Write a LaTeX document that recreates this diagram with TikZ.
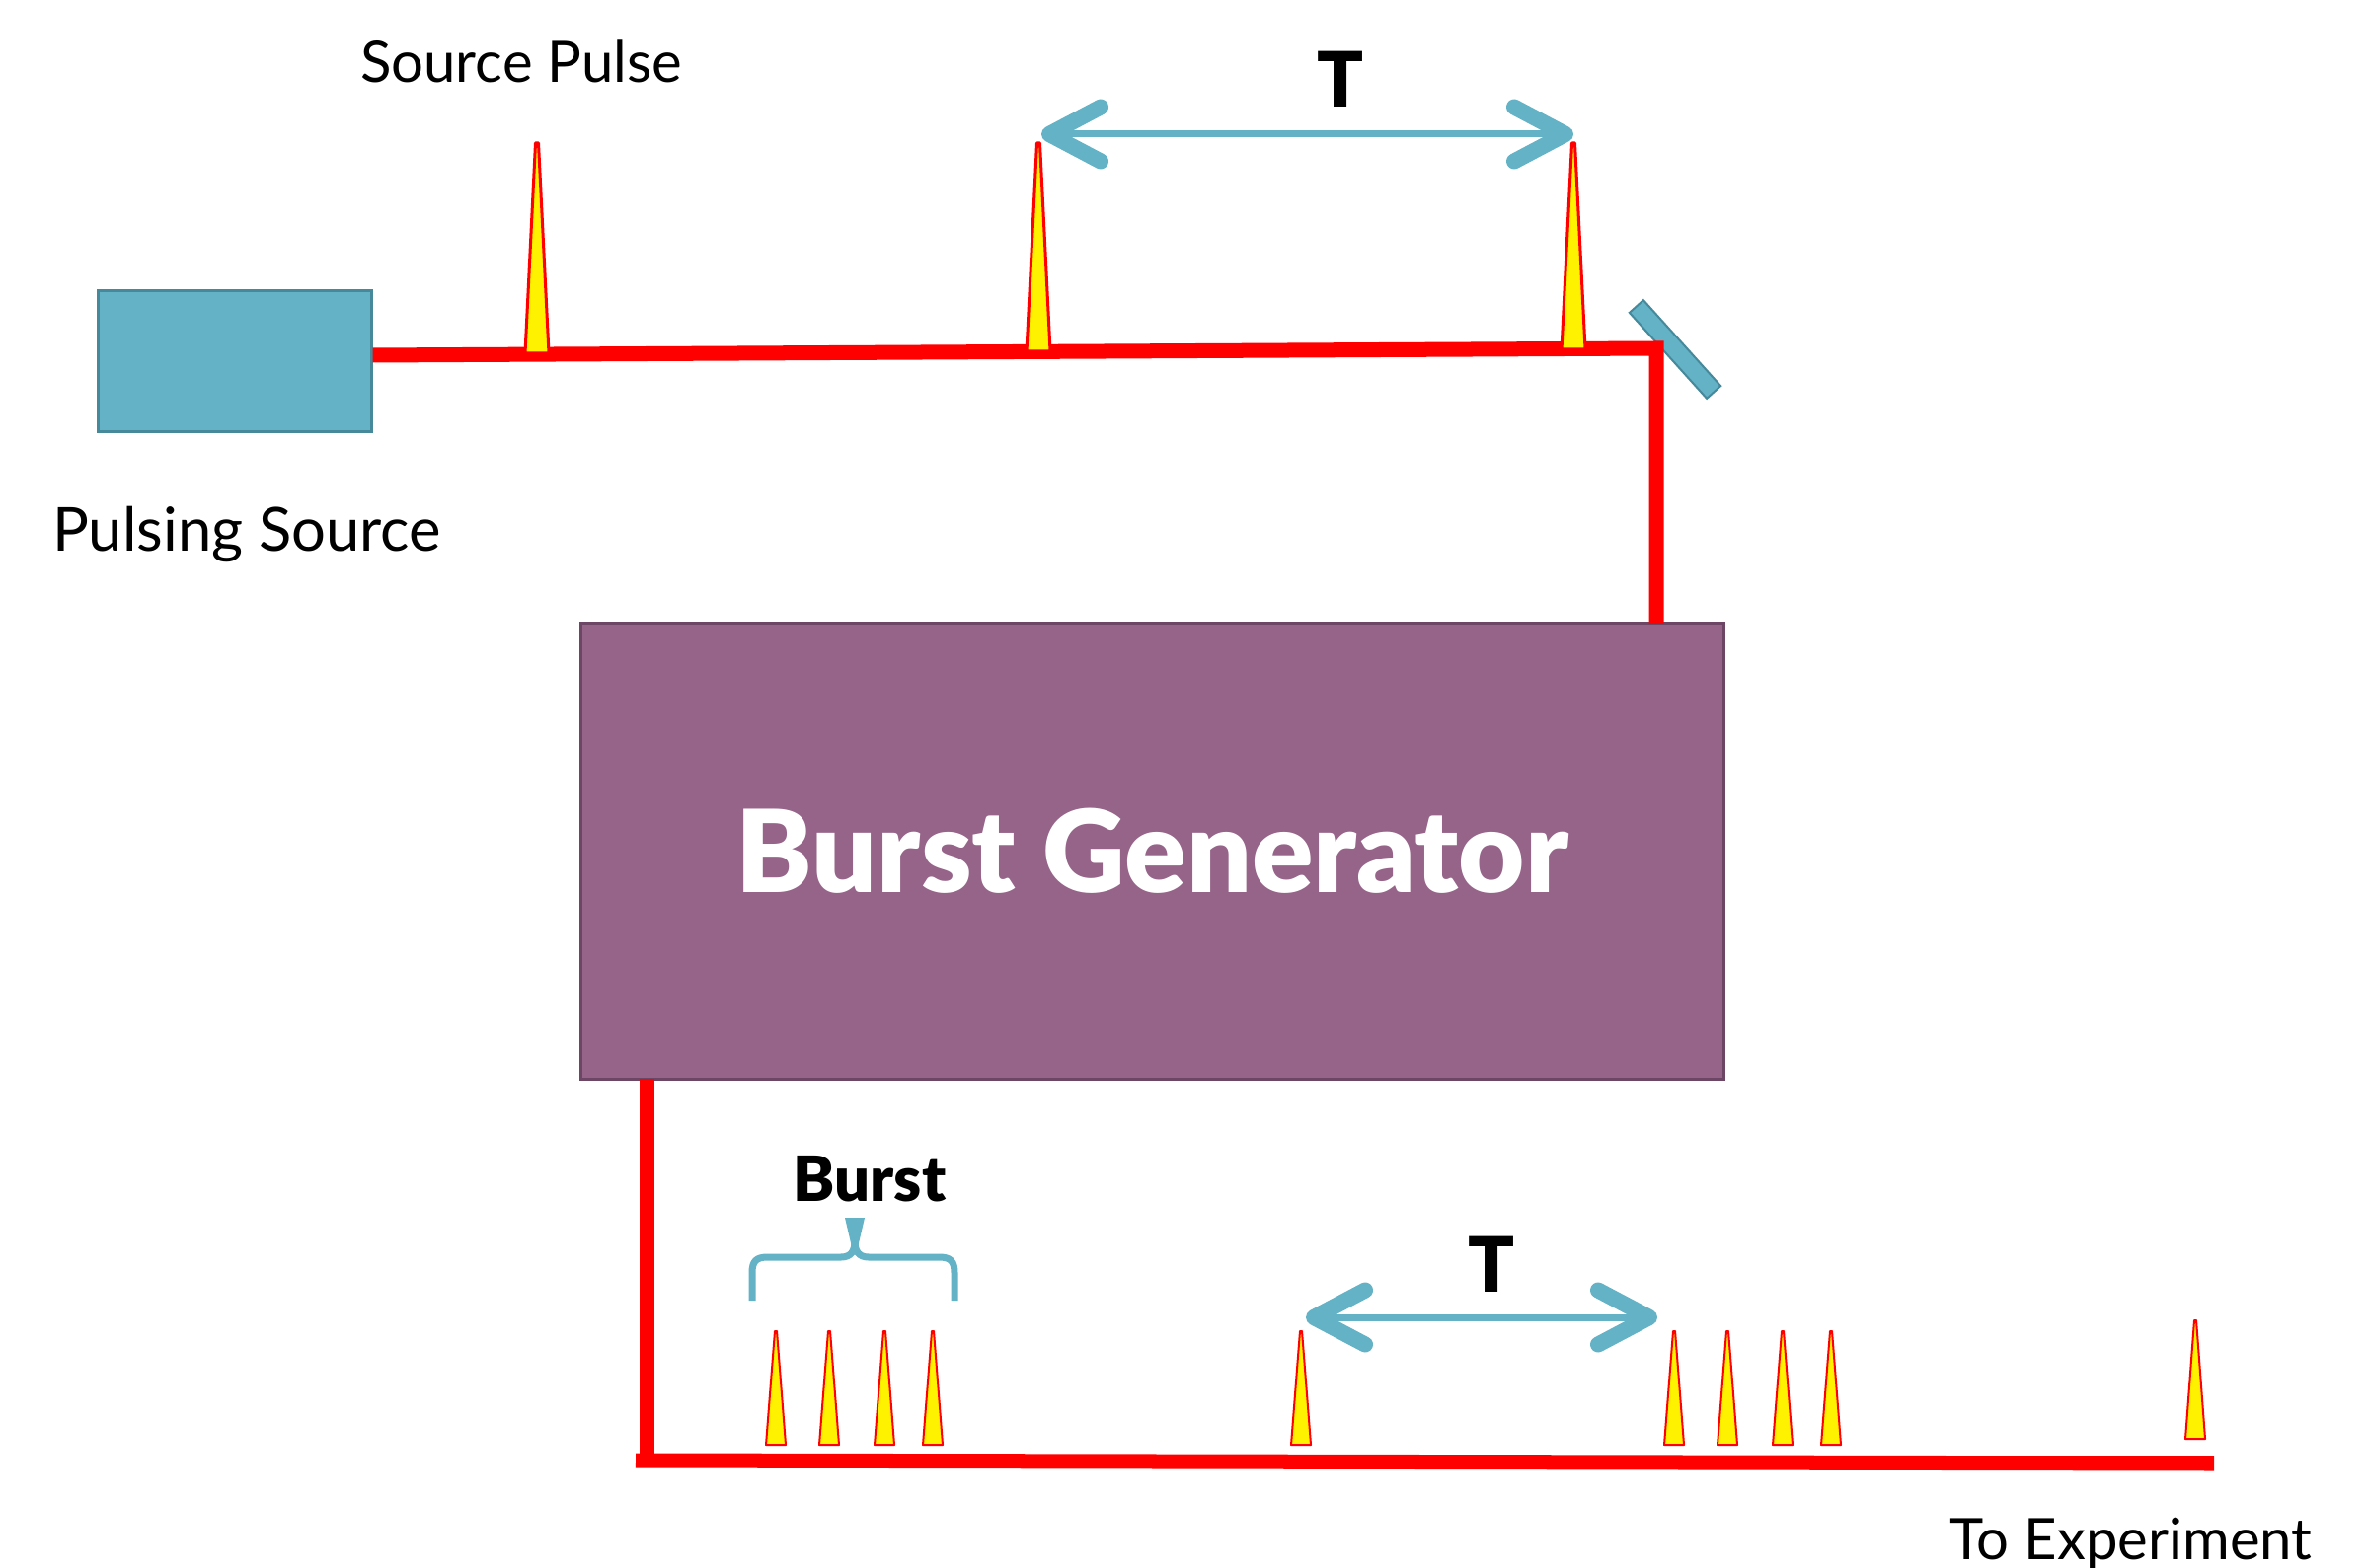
\documentclass[tikz,border=0pt]{standalone}
\usepackage{fontspec}
\setmainfont{Lato}[BoldFont={Lato Black}]
\usetikzlibrary{arrows.meta}
\definecolor{srcblue}{HTML}{63B2C6}
\definecolor{srcedge}{HTML}{46899A}
\definecolor{genpurple}{HTML}{966489}
\definecolor{genedge}{HTML}{6C4664}

\begin{document}
\begin{tikzpicture}[
                x=0.01cm, y=-0.01cm,
                beam/.style={red, line width=0.15cm},
                period/.style={draw=srcblue, line width=0.07cm,
                    {Straight Barb[length=0.52cm, width=0.55cm, line width=0.16cm, round]}-{Straight Barb[length=0.52cm, width=0.55cm, line width=0.16cm, round]}},
                pulse/.style={fill=yellow, draw=red, line width=0.03cm, line join=round},
                small pulse/.style={fill=yellow, draw=red, line width=0.02cm, line join=round},
                label/.style={anchor=base, inner sep=0pt, font=\fontsize{16.5}{19}\selectfont}
            ]
            \useasboundingbox (0,0) rectangle (2398,1589);

            % 脉冲源与分束器
            \node[draw=srcedge, fill=srcblue, line width=0.03cm, minimum width=2.76cm, minimum height=1.43cm, inner sep=0pt] (src) at (238,366) {};
            \node[draw=genedge, fill=genpurple, line width=0.03cm, minimum width=11.57cm, minimum height=4.61cm, inner sep=0pt,
                  text=white, font=\fontsize{33}{38}\selectfont\bfseries] (gen) at (1167.5,862.5) {Burst Generator};
            \node[draw=srcedge, fill=srcblue, line width=0.02cm, minimum width=1.17cm, minimum height=0.19cm, inner sep=0pt, rotate=-48] (mirror) at (1697,354) {};

            % 文字
            \node[label] (srclabel) at (250,559) {\fontsize{17.5}{20}\selectfont Pulsing Source};
            \node[label] (pulselabel) at (528,84) {Source Pulse};
            \node[label, font=\fontsize{18}{22}\selectfont\bfseries] (burstlabel) at (881,1217) {Burst};
            \node[label, font=\fontsize{22}{26}\selectfont\bfseries] (tin) at (1358,109) {T};
            \node[label, font=\fontsize{22}{26}\selectfont\bfseries] (tout) at (1511,1309) {T};
            \node[label, anchor=base east] (explabel) at (2343,1580) {To Experiment};

            % 光路
            \coordinate (corner) at (1678,353);
            \coordinate (genin) at (1678,632);
            \coordinate (genout) at (655,1093);
            \coordinate (bend) at (655,1480);
            \coordinate (exit) at (2243,1483);
            \draw[beam] (src.east |- 0,360) -- (corner) -- (genin);
            \draw[beam] (genout) -- (bend);
            \draw[beam] ([xshift=-0.11cm]bend) -- (exit);

            % 输入脉冲
            \foreach \px/\pb in {544/358, 1052/356, 1594/354}
                \draw[pulse] (\px-12,\pb) -- (\px-1.5,145) -- (\px+1.5,145) -- (\px+12,\pb) -- cycle;

            % 输出脉冲串
            \foreach \px in {786, 840, 896, 945, 1318, 1696, 1750, 1806, 1855}
                \draw[small pulse] (\px-10,1464) -- (\px-1,1349) -- (\px+1,1349) -- (\px+10,1464) -- cycle;
            \draw[small pulse] (2214,1458) -- (2223,1338) -- (2225,1338) -- (2234,1458) -- cycle;

            % 周期 T
            \coordinate (ta) at (1055,136);
            \coordinate (tb) at (1594,136);
            \coordinate (tc) at (1323,1335);
            \coordinate (td) at (1679,1335);
            \draw[period] (ta) -- (tb);
            \draw[period] (tc) -- (td);

            % 脉冲串括号
            \draw[srcblue, line width=0.07cm, line join=round]
                (762,1318) -- (762,1290) .. controls (762,1278) and (766,1274) .. (778,1274)
                -- (852,1274) .. controls (862,1274) and (866,1268) .. (866,1258);
            \draw[srcblue, line width=0.07cm, line join=round]
                (967,1318) -- (967,1290) .. controls (967,1278) and (963,1274) .. (951,1274)
                -- (880,1274) .. controls (870,1274) and (866,1268) .. (866,1258);
            \fill[srcblue] (856,1234) -- (876,1234) -- (869,1264) -- (863,1264) -- cycle;
        \end{tikzpicture}
\end{document}
